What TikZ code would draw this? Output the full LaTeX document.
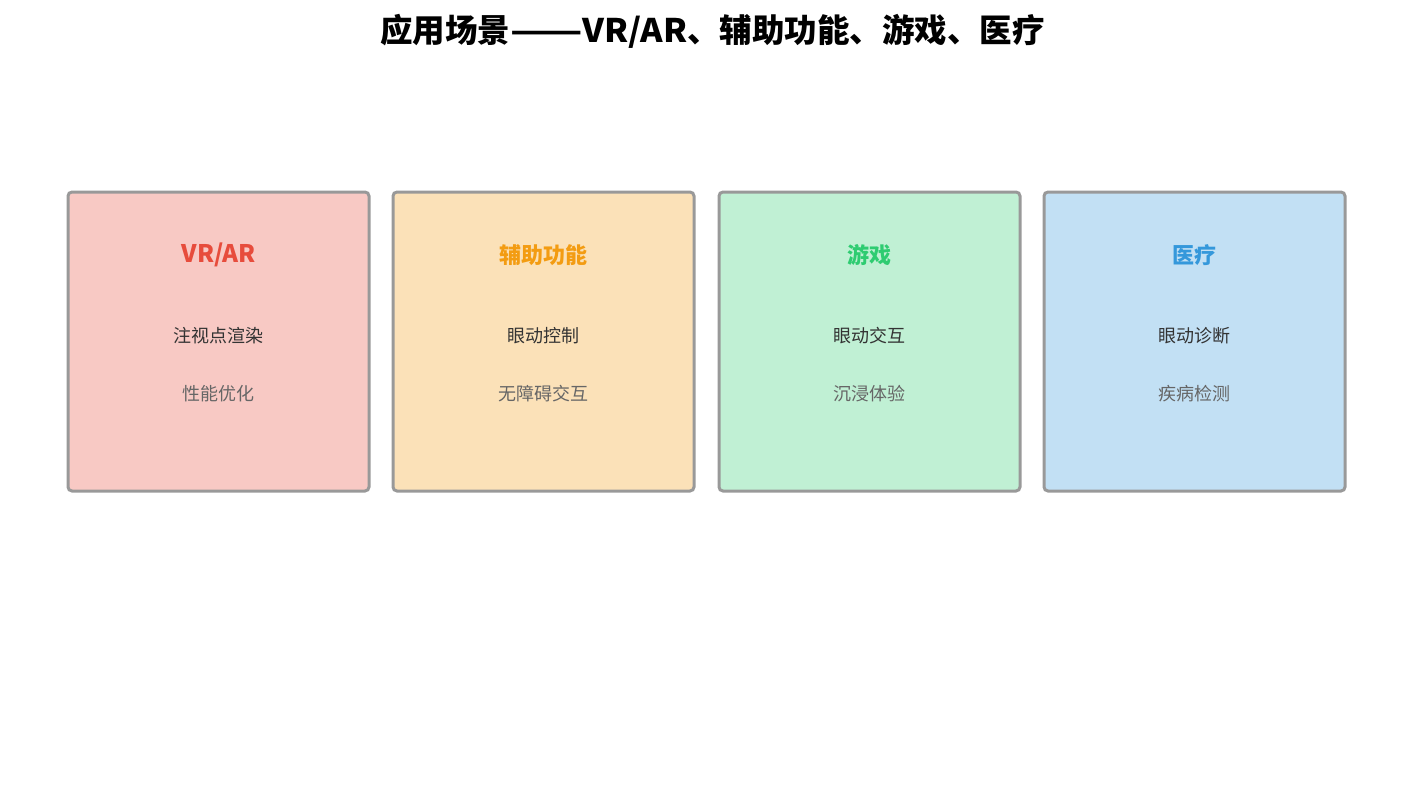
\documentclass[tikz,border=0pt]{standalone}
\usepackage{fontspec}
\setmainfont{Noto Sans CJK SC}
\definecolor{cred}{HTML}{E74C3C}
\definecolor{corange}{HTML}{F39C12}
\definecolor{cgreen}{HTML}{2ECC71}
\definecolor{cblue}{HTML}{3498DB}
\definecolor{cdark}{HTML}{333333}
\definecolor{cgray}{HTML}{666666}
\begin{document}
\begin{tikzpicture}[x=1pt,y=-1pt,
  card/.style={draw=black!40, line width=3pt, rounded corners=4pt, minimum width=301pt, minimum height=299pt, inner sep=0pt},
  cardtitle/.style={font=\fontsize{22}{26}\selectfont\bfseries, inner sep=0pt},
  itemA/.style={font=\fontsize{18}{22}\selectfont, text=cdark, inner sep=0pt},
  itemB/.style={font=\fontsize{18}{22}\selectfont, text=cgray, inner sep=0pt}]
\useasboundingbox (0,0) rectangle (1425,790);
\node[font=\fontsize{32.5}{38}\selectfont\bfseries, inner sep=0pt] (title) at (712.5,31) {应用场景\scalebox{1.3}[1]{——}\scalebox{1.05}[1]{VR/AR}、辅助功能、游戏、医疗};
% card 1
\node[card, fill=cred!30] (c1) at (218.5,341.5) {};
\node[cardtitle, text=cred] (t1) at (218.5,255) {\scalebox{1.1}{VR/AR}};
\node[itemA] (a1) at (218.5,336) {注视点渲染};
\node[itemB] (b1) at (218.5,394) {性能优化};
% card 2
\node[card, fill=corange!30] (c2) at (543.5,341.5) {};
\node[cardtitle, text=corange] (t2) at (543.5,255) {辅助功能};
\node[itemA] (a2) at (543.5,336) {眼动控制};
\node[itemB] (b2) at (543.5,394) {无障碍交互};
% card 3
\node[card, fill=cgreen!30] (c3) at (869.5,341.5) {};
\node[cardtitle, text=cgreen] (t3) at (869.5,255) {游戏};
\node[itemA] (a3) at (869.5,336) {眼动交互};
\node[itemB] (b3) at (869.5,394) {沉浸体验};
% card 4
\node[card, fill=cblue!30] (c4) at (1194.5,341.5) {};
\node[cardtitle, text=cblue] (t4) at (1194.5,255) {医疗};
\node[itemA] (a4) at (1194.5,336) {眼动诊断};
\node[itemB] (b4) at (1194.5,394) {疾病检测};
\end{tikzpicture}
\end{document}
